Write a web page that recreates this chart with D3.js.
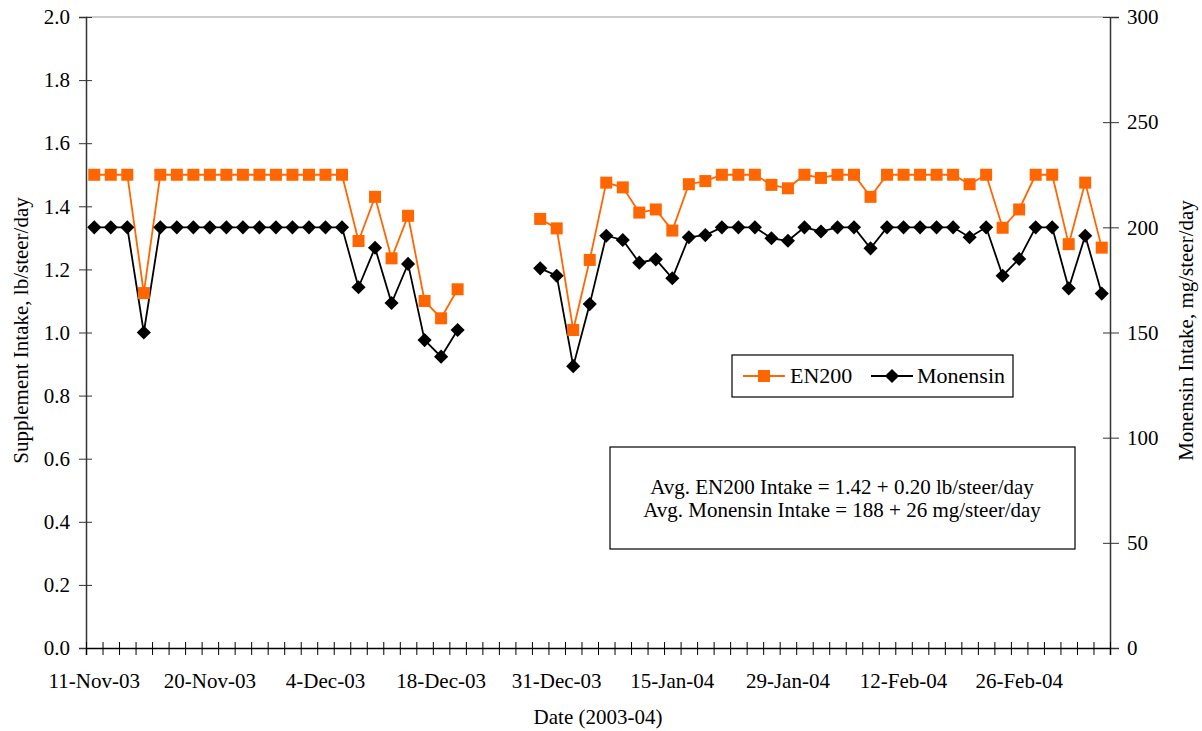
<!DOCTYPE html>
<html>
<head>
<meta charset="utf-8">
<script src="https://cdn.jsdelivr.net/npm/d3@7"></script>
<style>
  body { margin: 0; background: #fff; }
  svg { font-family: "Liberation Serif", "Times New Roman", serif; }
  .axis text { font-family: "Liberation Serif", "Times New Roman", serif; font-size: 21px; fill: #000; }
</style>
</head>
<body>
<div id="chart-area"></div>
<script>
// measurement dates (only every 7th one is labelled on the axis)
var dates = ["11-Nov-03","12-Nov-03","14-Nov-03","15-Nov-03","17-Nov-03","18-Nov-03","19-Nov-03",
    "20-Nov-03","22-Nov-03","24-Nov-03","26-Nov-03","28-Nov-03","30-Nov-03","2-Dec-03",
    "4-Dec-03","6-Dec-03","8-Dec-03","10-Dec-03","12-Dec-03","14-Dec-03","16-Dec-03",
    "18-Dec-03","20-Dec-03","22-Dec-03","24-Dec-03","26-Dec-03","28-Dec-03","30-Dec-03",
    "31-Dec-03","2-Jan-04","4-Jan-04","6-Jan-04","9-Jan-04","11-Jan-04","13-Jan-04",
    "15-Jan-04","17-Jan-04","19-Jan-04","21-Jan-04","23-Jan-04","25-Jan-04","27-Jan-04",
    "29-Jan-04","31-Jan-04","2-Feb-04","4-Feb-04","6-Feb-04","8-Feb-04","10-Feb-04",
    "12-Feb-04","14-Feb-04","16-Feb-04","18-Feb-04","20-Feb-04","22-Feb-04","24-Feb-04",
    "26-Feb-04","28-Feb-04","1-Mar-04","3-Mar-04","5-Mar-04","7-Mar-04"];

// EN200 supplement intake, lb/steer/day
var en200 = [1.50, 1.50, 1.50, 1.125, 1.50, 1.50, 1.50,
    1.50, 1.50, 1.50, 1.50, 1.50, 1.50, 1.50,
    1.50, 1.50, 1.29, 1.43, 1.235, 1.37, 1.10,
    1.045, 1.137, null, null, null, null, 1.36,
    1.33, 1.008, 1.23, 1.475, 1.46, 1.38, 1.39,
    1.323, 1.47, 1.48, 1.50, 1.50, 1.50, 1.468,
    1.457, 1.50, 1.49, 1.50, 1.50, 1.43, 1.50,
    1.50, 1.50, 1.50, 1.50, 1.47, 1.50, 1.332,
    1.39, 1.50, 1.50, 1.28, 1.475, 1.269];

// Monensin intake, mg/steer/day
var monensin = [200, 200, 200, 150, 200, 200, 200,
    200, 200, 200, 200, 200, 200, 200,
    200, 200, 171.5, 190.3, 164, 182.6, 146.4,
    138.5, 151.2, null, null, null, null, 180.5,
    177, 134, 163.5, 196, 194, 183.2, 184.8,
    175.8, 195.3, 196.3, 200, 200, 200, 194.8,
    193.6, 200, 198, 200, 200, 190, 200,
    200, 200, 200, 200, 195.3, 200, 177,
    185, 200, 200, 171, 196, 168.5];

var leftTicks = [0, 0.2, 0.4, 0.6, 0.8, 1.0, 1.2, 1.4, 1.6, 1.8, 2.0];
var rightTicks = [0, 50, 100, 150, 200, 250, 300];

var margin = { left: 86, right: 92, top: 17, bottom: 83 };
var width = 1202 - margin.left - margin.right,
    height = 731 - margin.top - margin.bottom;

var svg = d3.select("#chart-area")
    .append("svg")
        .attr("width", 1202)
        .attr("height", 731);

var g = svg.append("g")
    .attr("transform", "translate(" + margin.left + "," + margin.top + ")");

// Scales
var x = d3.scaleBand()
    .domain(d3.range(dates.length))
    .range([0, width])
    .padding(0);

var xEdge = d3.scaleLinear()
    .domain([0, dates.length])
    .range([0, width]);

var yLeft = d3.scaleLinear().domain([0, 2]).range([height, 0]);
var yRight = d3.scaleLinear().domain([0, 300]).range([height, 0]);

// plot border top
g.append("line")
    .attr("x1", 0).attr("x2", width)
    .attr("y1", 0).attr("y2", 0)
    .attr("stroke", "#999").attr("stroke-width", 1);

// Left axis
var leftAxis = g.append("g")
    .attr("class", "axis")
    .call(d3.axisLeft(yLeft).tickValues(leftTicks).tickFormat(d3.format(".1f")).tickSize(7).tickPadding(9));
leftAxis.select(".domain").attr("stroke", "#333").attr("stroke-width", 1.5);
leftAxis.selectAll(".tick line").attr("x1", 6).attr("stroke", "#333");

// Right axis
var rightAxis = g.append("g")
    .attr("class", "axis")
    .attr("transform", "translate(" + width + ",0)")
    .call(d3.axisRight(yRight).tickValues(rightTicks).tickSize(9).tickPadding(8));
rightAxis.select(".domain").attr("stroke", "#333").attr("stroke-width", 1.5);
rightAxis.selectAll(".tick line").attr("x1", -7).attr("stroke", "#333");

// X axis: ticks between categories
var xTicks = g.append("g")
    .attr("class", "axis")
    .attr("transform", "translate(0," + height + ")")
    .call(d3.axisBottom(xEdge).tickValues(d3.range(dates.length + 1)).tickSize(7).tickFormat(""));
xTicks.select(".domain").attr("stroke", "#000").attr("stroke-width", 1.5);
xTicks.selectAll(".tick line").attr("y1", -6).attr("stroke", "#000");

// X labels every 7th category
var xLabels = g.append("g")
    .attr("class", "axis")
    .attr("transform", "translate(0," + height + ")")
    .call(d3.axisBottom(x)
        .tickValues(d3.range(0, dates.length, 7))
        .tickFormat(function(i) { return dates[i]; })
        .tickSize(0).tickPadding(25));
xLabels.select(".domain").remove();

// Axis titles
g.append("text")
    .attr("x", width / 2)
    .attr("y", height + 76)
    .attr("font-size", "21px")
    .attr("text-anchor", "middle")
    .text("Date (2003-04)");

g.append("text")
    .attr("transform", "rotate(-90)")
    .attr("x", -(height / 2) + 2)
    .attr("y", -58)
    .attr("font-size", "21px")
    .attr("text-anchor", "middle")
    .text("Supplement Intake, lb/steer/day");

g.append("text")
    .attr("transform", "rotate(-90)")
    .attr("x", -(height / 2) + 2)
    .attr("y", width + 83)
    .attr("font-size", "21px")
    .attr("text-anchor", "middle")
    .text("Monensin Intake, mg/steer/day");

var orange = "#FF6600";

// Lines
var enLine = d3.line()
    .defined(function(d) { return d != null; })
    .x(function(d, i) { return x(i) + x.bandwidth() / 2; })
    .y(function(d) { return yLeft(d); });

var monLine = d3.line()
    .defined(function(d) { return d != null; })
    .x(function(d, i) { return x(i) + x.bandwidth() / 2; })
    .y(function(d) { return yRight(d); });

g.append("path")
    .datum(monensin)
    .attr("fill", "none")
    .attr("stroke", "#000")
    .attr("stroke-width", 1.8)
    .attr("d", monLine);

g.append("path")
    .datum(en200)
    .attr("fill", "none")
    .attr("stroke", orange)
    .attr("stroke-width", 1.8)
    .attr("d", enLine);

var diamond = d3.symbol().type(d3.symbolSquare).size(100);

// Monensin markers
g.selectAll(".mon")
    .data(monensin.map(function(v, i) { return { i: i, v: v }; }).filter(function(d) { return d.v != null; }))
    .enter()
    .append("path")
        .attr("class", "mon")
        .attr("d", diamond)
        .attr("fill", "#000")
        .attr("transform", function(d) {
            return "translate(" + (x(d.i) + x.bandwidth() / 2) + "," + yRight(d.v) + ") rotate(45)";
        });

// EN200 markers
g.selectAll(".en")
    .data(en200.map(function(v, i) { return { i: i, v: v }; }).filter(function(d) { return d.v != null; }))
    .enter()
    .append("rect")
        .attr("class", "en")
        .attr("x", function(d) { return x(d.i) + x.bandwidth() / 2 - 6; })
        .attr("y", function(d) { return yLeft(d.v) - 6; })
        .attr("width", 12)
        .attr("height", 12)
        .attr("fill", orange);

// Legend
var lg = svg.append("g").attr("transform", "translate(732,355)");
lg.append("rect")
    .attr("width", 281).attr("height", 42)
    .attr("fill", "#fff").attr("stroke", "#000").attr("stroke-width", 1.2);
lg.append("line").attr("x1", 11).attr("x2", 53).attr("y1", 21).attr("y2", 21)
    .attr("stroke", orange).attr("stroke-width", 1.8);
lg.append("rect").attr("x", 26).attr("y", 15).attr("width", 12).attr("height", 12).attr("fill", orange);
lg.append("text").attr("x", 58).attr("y", 28).attr("font-size", "22px").text("EN200");
lg.append("line").attr("x1", 139).attr("x2", 181).attr("y1", 21).attr("y2", 21)
    .attr("stroke", "#000").attr("stroke-width", 1.8);
lg.append("path").attr("d", diamond)
    .attr("transform", "translate(160,21) rotate(45)").attr("fill", "#000");
lg.append("text").attr("x", 185).attr("y", 28).attr("font-size", "22px").text("Monensin");

// Averages text box
var tb = svg.append("g").attr("transform", "translate(610,447)");
tb.append("rect")
    .attr("width", 465).attr("height", 102)
    .attr("fill", "#fff").attr("stroke", "#000").attr("stroke-width", 1.2);
tb.append("text").attr("x", 232).attr("y", 47).attr("font-size", "21px")
    .attr("text-anchor", "middle").text("Avg. EN200 Intake = 1.42 + 0.20 lb/steer/day");
tb.append("text").attr("x", 232).attr("y", 70).attr("font-size", "21px")
    .attr("text-anchor", "middle").text("Avg. Monensin Intake = 188 + 26 mg/steer/day");
</script>
</body>
</html>
